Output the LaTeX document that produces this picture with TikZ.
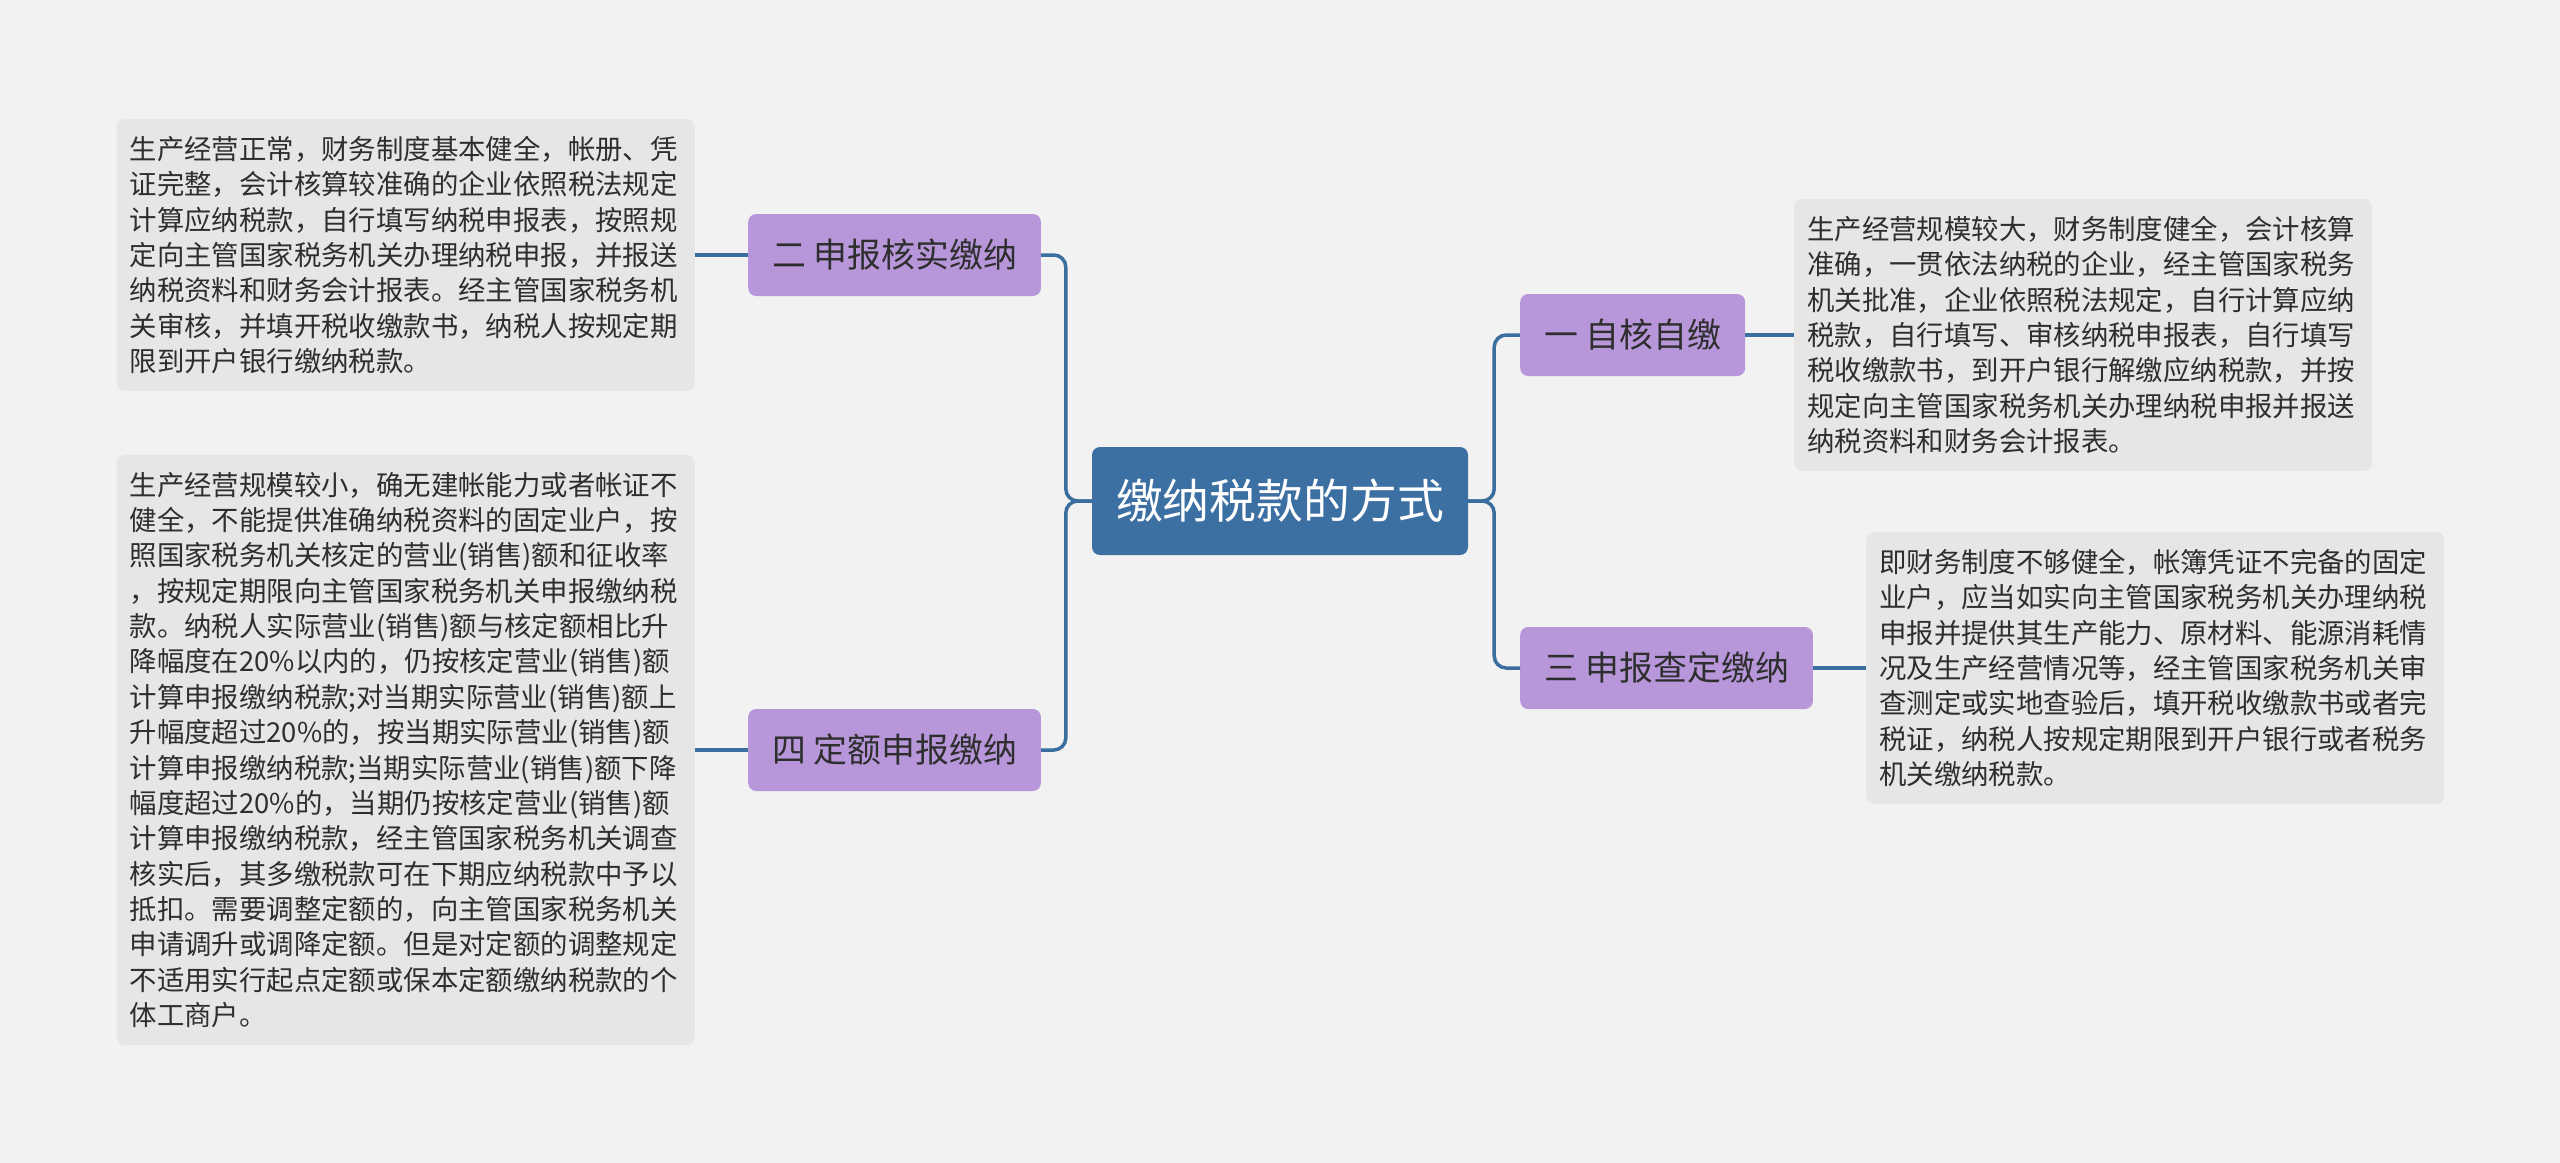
\documentclass[tikz,border=0pt]{standalone}
\usepackage{fontspec}
\setmainfont{Noto Sans CJK SC}
\usepackage{tikz}
\definecolor{bgcol}{HTML}{F2F2F2}
\definecolor{rootblue}{HTML}{3D70A2}
\definecolor{linkblue}{HTML}{3A6E9F}
\definecolor{branchpurple}{HTML}{B797DA}
\definecolor{leafgray}{HTML}{E6E6E6}
\definecolor{darktext}{HTML}{2E2E2E}

\begin{document}
\begin{tikzpicture}[
  topic/.style={rounded corners=8bp,fill=rootblue,text=white,font=\fontsize{47}{52}\selectfont,minimum width=376bp,minimum height=108bp},
  branch/.style={rounded corners=8bp,fill=branchpurple,text=darktext,font=\fontsize{34}{40}\selectfont,minimum height=82bp,inner xsep=24bp,anchor=west},
  leaf/.style={rounded corners=8bp,fill=leafgray,text=darktext,font=\fontsize{27.5}{35.5}\selectfont,align=left,text width=552bp,inner xsep=13bp,inner ysep=17bp},
  link/.style={draw=linkblue,line width=3.5bp,rounded corners=12bp}
]
\useasboundingbox (0bp,0bp) rectangle (2560bp,-1163bp);
\fill[bgcol] (0bp,0bp) rectangle (2560bp,-1163bp);

\node (root) at (1280bp,-501bp)[topic] {缴纳税款的方式};

\node (n2) at (748bp,-255bp)[branch] {二 申报核实缴纳};
\node (n4) at (748bp,-750bp)[branch] {四 定额申报缴纳};
\node (n1) at (1520bp,-335bp)[branch] {一 自核自缴};
\node (n3) at (1520bp,-668bp)[branch] {三 申报查定缴纳};

\node (t2) at (695bp,-255bp)[leaf,anchor=east] {生产经营正常，财务制度基本健全，帐册、凭\\
证完整，会计核算较准确的企业依照税法规定\\
计算应纳税款，自行填写纳税申报表，按照规\\
定向主管国家税务机关办理纳税申报，并报送\\
纳税资料和财务会计报表。经主管国家税务机\\
关审核，并填开税收缴款书，纳税人按规定期\\
限到开户银行缴纳税款。};
\node (t4) at (695bp,-750bp)[leaf,anchor=east] {生产经营规模较小，确无建帐能力或者帐证不\\
健全，不能提供准确纳税资料的固定业户，按\\
照国家税务机关核定的营业(销售)额和征收率\\
，按规定期限向主管国家税务机关申报缴纳税\\
款。纳税人实际营业(销售)额与核定额相比升\\
降幅度在20\%以内的，仍按核定营业(销售)额\\
计算申报缴纳税款;对当期实际营业(销售)额上\\
升幅度超过20\%的，按当期实际营业(销售)额\\
计算申报缴纳税款;当期实际营业(销售)额下降\\
幅度超过20\%的，当期仍按核定营业(销售)额\\
计算申报缴纳税款，经主管国家税务机关调查\\
核实后，其多缴税款可在下期应纳税款中予以\\
抵扣。需要调整定额的，向主管国家税务机关\\
申请调升或调降定额。但是对定额的调整规定\\
不适用实行起点定额或保本定额缴纳税款的个\\
体工商户。};
\node (t1) at (1794bp,-335bp)[leaf,anchor=west] {生产经营规模较大，财务制度健全，会计核算\\
准确，一贯依法纳税的企业，经主管国家税务\\
机关批准，企业依照税法规定，自行计算应纳\\
税款，自行填写、审核纳税申报表，自行填写\\
税收缴款书，到开户银行解缴应纳税款，并按\\
规定向主管国家税务机关办理纳税申报并报送\\
纳税资料和财务会计报表。};
\node (t3) at (1866bp,-668bp)[leaf,anchor=west] {即财务制度不够健全，帐簿凭证不完备的固定\\
业户，应当如实向主管国家税务机关办理纳税\\
申报并提供其生产能力、原材料、能源消耗情\\
况及生产经营情况等，经主管国家税务机关审\\
查测定或实地查验后，填开税收缴款书或者完\\
税证，纳税人按规定期限到开户银行或者税务\\
机关缴纳税款。};

\draw [link] (root.west) -- ++(-26bp,0) |- (n2.east);
\draw [link] (root.west) -- ++(-26bp,0) |- (n4.east);
\draw [link] (root.east) -- ++(26bp,0) |- (n1.west);
\draw [link] (root.east) -- ++(26bp,0) |- (n3.west);
\draw [link] (n2.west) to (t2.east);
\draw [link] (n4.west) to (t4.east);
\draw [link] (n1.east) to (t1.west);
\draw [link] (n3.east) to (t3.west);
\end{tikzpicture}
\end{document}
